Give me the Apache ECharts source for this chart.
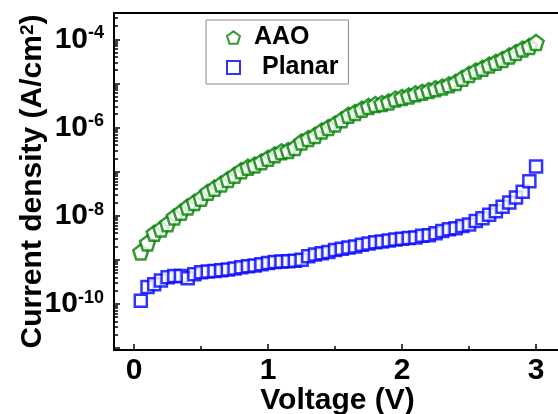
<!DOCTYPE html>
<html>
<head>
<meta charset="utf-8">
<script src="https://cdn.jsdelivr.net/npm/echarts@6/dist/echarts.min.js"></script>
<style>
html, body { margin: 0; padding: 0; background: #fff; }
#main { width: 558px; height: 414px; }
</style>
</head>
<body>
<div id="main"></div>
<script>
// 数据：电压 (V) 与电流密度 (A/cm2)
var voltage = [0.05, 0.10, 0.15, 0.20, 0.25, 0.30, 0.35, 0.40, 0.45, 0.50,
	0.55, 0.60, 0.65, 0.70, 0.75, 0.80, 0.85, 0.90, 0.95, 1.00,
	1.05, 1.10, 1.15, 1.20, 1.25, 1.30, 1.35, 1.40, 1.45, 1.50,
	1.55, 1.60, 1.65, 1.70, 1.75, 1.80, 1.85, 1.90, 1.95, 2.00,
	2.05, 2.10, 2.15, 2.20, 2.25, 2.30, 2.35, 2.40, 2.45, 2.50,
	2.55, 2.60, 2.65, 2.70, 2.75, 2.80, 2.85, 2.90, 2.95, 3.00];

var aao = [1.51e-9, 2.4e-9, 3.98e-9, 5.0e-9, 6.6e-9, 9.3e-9, 1.2e-8, 1.58e-8, 2.0e-8, 2.5e-8,
	3.4e-8, 4.2e-8, 5.2e-8, 6.6e-8, 8.3e-8, 1.05e-7, 1.26e-7, 1.41e-7, 1.66e-7, 2.0e-7,
	2.4e-7, 2.8e-7, 3.0e-7, 3.5e-7, 4.7e-7, 5.6e-7, 6.6e-7, 8.3e-7, 1.0e-6, 1.2e-6,
	1.5e-6, 1.9e-6, 2.2e-6, 2.6e-6, 3.0e-6, 3.3e-6, 3.5e-6, 3.8e-6, 4.4e-6, 4.8e-6,
	5.2e-6, 5.8e-6, 6.3e-6, 6.9e-6, 7.6e-6, 8.3e-6, 9.3e-6, 1.05e-5, 1.3e-5, 1.6e-5,
	1.9e-5, 2.2e-5, 2.6e-5, 3.0e-5, 3.5e-5, 4.2e-5, 5.0e-5, 6.0e-5, 6.9e-5, 8.5e-5];

var planar = [1.17e-10, 2.4e-10, 2.8e-10, 3.4e-10, 4.0e-10, 4.3e-10, 4.3e-10, 3.8e-10, 4.7e-10, 5.2e-10,
	5.4e-10, 5.6e-10, 5.8e-10, 6.0e-10, 6.3e-10, 6.8e-10, 7.1e-10, 7.4e-10, 7.9e-10, 8.5e-10,
	8.9e-10, 9.1e-10, 9.3e-10, 9.5e-10, 1.0e-9, 1.2e-9, 1.32e-9, 1.41e-9, 1.51e-9, 1.66e-9,
	1.78e-9, 1.9e-9, 2.0e-9, 2.2e-9, 2.34e-9, 2.5e-9, 2.6e-9, 2.75e-9, 2.9e-9, 3.0e-9,
	3.1e-9, 3.2e-9, 3.5e-9, 3.6e-9, 4.0e-9, 4.5e-9, 4.9e-9, 5.2e-9, 5.8e-9, 6.3e-9,
	7.6e-9, 8.7e-9, 1.05e-8, 1.26e-8, 1.6e-8, 2.0e-8, 2.6e-8, 3.5e-8, 6.0e-8, 1.3e-7];

// 刻度
var xLabelValues = [0, 1, 2, 3];
var xMinorValues = [0.5, 1.5, 2.5];
var yLabelValues = [1e-10, 1e-8, 1e-6, 1e-4];
var yDecadeValues = [1e-11, 1e-10, 1e-9, 1e-8, 1e-7, 1e-6, 1e-5, 1e-4];
var yMinorValues = [];
for (var p = -12; p <= -4; p++) {
	for (var k = 2; k <= 9; k++) {
		yMinorValues.push(k * Math.pow(10, p));
	}
}

var FONT = 'Liberation Sans';
var pentagon = 'path://M0,-10 L9.51,-3.09 L5.88,8.09 L-5.88,8.09 L-9.51,-3.09 Z';

function pairs(ys) {
	return voltage.map(function (v, i) { return [v, ys[i]]; });
}

var myChart = echarts.init(document.getElementById('main'));

var option = {
	backgroundColor: '#fff',
	animation: false,
	grid: {
		left: 114,
		top: 13,
		right: -3,
		bottom: 64,
		outerBoundsMode: 'none', // 不自动收缩坐标区
		containLabel: false,
		show: true,
		borderColor: '#000',
		borderWidth: 2
	},
	legend: {
		orient: 'vertical',
		left: 206,
		top: 20,
		padding: [5, 10, 4, 20],
		itemWidth: 13,
		itemHeight: 13,
		itemGap: 5,
		borderColor: '#888',
		borderWidth: 1,
		textStyle: {
			fontFamily: FONT,
			fontSize: 25,
			fontWeight: 'bold',
			color: '#000',
			padding: [0, 0, 0, 9]
		},
		data: [
			{ name: 'AAO' },
			{ name: 'Planar', textStyle: { padding: [0, 0, 0, 17] } }
		]
	},
	xAxis: [{
		type: 'value',
		position: 'bottom',
		min: -0.15,
		max: 3.186,
		name: 'Voltage (V)',
		nameLocation: 'middle',
		nameGap: 36,
		nameMoveOverlap: false,
		nameTextStyle: {
			fontFamily: FONT,
			fontSize: 30,
			fontWeight: 'bold',
			color: '#000'
		},
		axisLine: { onZero: false, lineStyle: { color: '#000', width: 2 } },
		axisTick: {
			inside: true,
			length: 6,
			customValues: xLabelValues,
			lineStyle: { color: '#000', width: 1.5 }
		},
		axisLabel: {
			customValues: xLabelValues,
			margin: 6,
			fontFamily: FONT,
			fontSize: 30,
			fontWeight: 'bold',
			color: '#000'
		},
		splitLine: { show: false }
	}, {
		type: 'value',
		position: 'bottom',
		min: -0.15,
		max: 3.186,
		axisLine: { show: false, onZero: false },
		axisTick: {
			inside: true,
			length: 4,
			customValues: xMinorValues,
			lineStyle: { color: '#000', width: 1.5 }
		},
		axisLabel: { show: false },
		splitLine: { show: false }
	}],
	yAxis: [{
		type: 'log',
		position: 'left',
		min: Math.pow(10, -11.046),
		max: Math.pow(10, -3.404),
		name: '{a|Current density (A/cm}{s|2}{a|)}',
		nameLocation: 'middle',
		nameGap: 66,
		nameMoveOverlap: false,
		nameTextStyle: {
			rich: {
				a: { fontFamily: FONT, fontSize: 30, fontWeight: 'bold', color: '#000' },
				s: { fontFamily: FONT, fontSize: 19, fontWeight: 'bold', color: '#000', verticalAlign: 'top', padding: [0, 0, 6, 0] }
			}
		},
		axisLine: { onZero: false, lineStyle: { color: '#000', width: 2 } },
		axisTick: {
			inside: true,
			length: 6,
			customValues: yDecadeValues,
			lineStyle: { color: '#000', width: 1.5 }
		},
		axisLabel: {
			customValues: yLabelValues,
			margin: 10,
			formatter: function (v) {
				return '{b|10}{s|' + Math.round(Math.log10(v)) + '}';
			},
			rich: {
				b: { fontFamily: FONT, fontSize: 30, fontWeight: 'bold', color: '#000' },
				s: { fontFamily: FONT, fontSize: 18, fontWeight: 'bold', color: '#000', verticalAlign: 'top' }
			}
		},
		splitLine: { show: false }
	}, {
		type: 'log',
		position: 'left',
		min: Math.pow(10, -11.046),
		max: Math.pow(10, -3.404),
		axisLine: { show: false, onZero: false },
		axisTick: {
			inside: true,
			length: 4,
			customValues: yMinorValues,
			lineStyle: { color: '#000', width: 1.5 }
		},
		axisLabel: { show: false },
		splitLine: { show: false }
	}],
	series: [{
		name: 'AAO',
		type: 'scatter',
		symbol: pentagon,
		symbolSize: 15,
		itemStyle: { color: '#fff', borderColor: '#008000', borderWidth: 2.5 },
		emphasis: { disabled: true },
		data: pairs(aao)
	}, {
		name: 'Planar',
		type: 'scatter',
		symbol: 'rect',
		symbolSize: 12,
		itemStyle: { color: '#fff', borderColor: '#0000ff', borderWidth: 2.5 },
		emphasis: { disabled: true },
		data: pairs(planar)
	}]
};

myChart.setOption(option);
</script>
</body>
</html>
